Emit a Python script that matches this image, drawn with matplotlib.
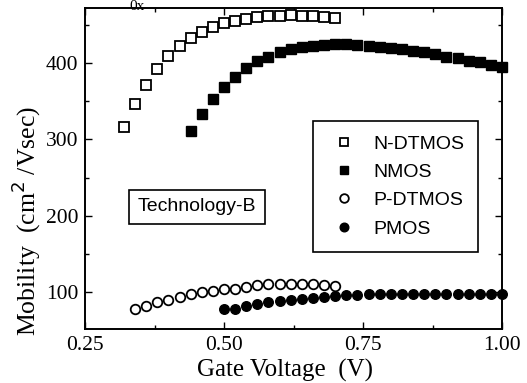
import numpy as np
import matplotlib
matplotlib.use("Agg")
import matplotlib.pyplot as plt
from matplotlib.ticker import MultipleLocator

# Data
ndtmos_v = [0.32, 0.34, 0.36, 0.38, 0.40, 0.42, 0.44, 0.46, 0.48, 0.50,
            0.52, 0.54, 0.56, 0.58, 0.60, 0.62, 0.64, 0.66, 0.68, 0.70]
ndtmos_mu = [316.6, 345.9, 370.8, 391.8, 409.2, 422.3, 432.3, 440.2, 447.5, 452.0,
             455.4, 457.6, 460.2, 461.5, 461.9, 462.8, 461.9, 461.5, 460.6, 458.5]

nmos_v = [0.44, 0.46, 0.48, 0.50, 0.52, 0.54, 0.56, 0.58, 0.60, 0.62,
          0.64, 0.66, 0.68, 0.70, 0.72, 0.74, 0.76, 0.78, 0.80, 0.82,
          0.84, 0.86, 0.88, 0.90, 0.92, 0.94, 0.96, 0.98, 1.00]
nmos_mu = [311.4, 332.9, 352.5, 368.2, 382.1, 393.1, 402.0, 408.2, 414.8, 418.0,
           420.5, 422.6, 423.6, 424.5, 424.5, 423.6, 422.6, 421.3, 420.0, 418.0,
           415.7, 414.0, 411.4, 408.2, 406.2, 403.0, 401.0, 397.4, 394.4]

pdtmos_v = [0.34, 0.36, 0.38, 0.40, 0.42, 0.44, 0.46, 0.48, 0.50, 0.52,
            0.54, 0.56, 0.58, 0.60, 0.62, 0.64, 0.66, 0.68, 0.70]
pdtmos_mu = [78.1, 82.5, 87.7, 89.9, 94.2, 97.4, 100.0, 101.7, 103.9, 104.3,
             107.3, 109.6, 110.5, 110.9, 110.9, 110.9, 110.5, 109.6, 108.6]

pmos_v = [0.50, 0.52, 0.54, 0.56, 0.58, 0.60, 0.62, 0.64, 0.66, 0.68,
          0.70, 0.72, 0.74, 0.76, 0.78, 0.80, 0.82, 0.84, 0.86, 0.88,
          0.90, 0.92, 0.94, 0.96, 0.98, 1.00]
pmos_mu = [77.7, 78.1, 82.5, 84.3, 87.0, 88.6, 90.0, 91.2, 92.2, 93.5,
           95.0, 96.3, 96.3, 97.3, 97.3, 97.7, 97.7, 97.7, 97.7, 97.7,
           97.7, 97.7, 97.7, 97.7, 97.7, 97.7]

x_ticks = [0.25, 0.50, 0.75, 1.00]
x_tick_labels = ["0.25", "0.50", "0.75", "1.00"]
y_ticks = [100, 200, 300, 400]

serif = ["Liberation Serif", "DejaVu Serif"]
sans = ["Liberation Sans", "DejaVu Sans"]

W, H = 527, 383
fig = plt.figure(figsize=(5.27, 3.83), dpi=100)
ax = fig.add_axes([85/W, 1-329/H, (502-85)/W, (329-8)/H])

ms = 6.5
ax.plot(ndtmos_v, ndtmos_mu, ls='none', marker='s', ms=ms, mfc='white', mec='black', mew=1.3,
        label='N-DTMOS', clip_on=False)
ax.plot(nmos_v, nmos_mu, ls='none', marker='s', ms=ms, mfc='black', mec='black', mew=1.0,
        label='NMOS', clip_on=False)
ax.plot(pdtmos_v, pdtmos_mu, ls='none', marker='o', ms=ms+0.4, mfc='white', mec='black', mew=1.3,
        label='P-DTMOS', clip_on=False)
ax.plot(pmos_v, pmos_mu, ls='none', marker='o', ms=ms+0.4, mfc='black', mec='black', mew=1.0,
        label='PMOS', clip_on=False)

ax.set_xlim(0.25, 1.00)
ax.set_ylim(52, 472)
ax.set_xticks(x_ticks)
ax.set_xticklabels(x_tick_labels)
ax.set_yticks(y_ticks)
ax.xaxis.set_minor_locator(MultipleLocator(0.125))
ax.yaxis.set_minor_locator(MultipleLocator(50))
ax.tick_params(which='both', direction='in', top=True, right=True)
ax.tick_params(which='major', length=5, width=1.0, labelsize=15.5, pad=5)
ax.tick_params(which='minor', length=3, width=1.0)
for lab in ax.get_xticklabels() + ax.get_yticklabels():
    lab.set_family(serif)
for sp in ax.spines.values():
    sp.set_linewidth(1.4)

fig.text(285/W, 1-370/H, "Gate Voltage  (V)", fontsize=18, family=serif,
         ha='center', va='center')
fig.text(26/W, 1-221/H, "Mobility  (cm$^2$ /Vsec)", fontsize=18.5, family=serif,
         ha='center', va='center', rotation=90)

leg = ax.legend(loc='upper left', bbox_to_anchor=((313-85)/417, 1-(121-8)/321),
                borderaxespad=0, frameon=True, fancybox=False, edgecolor='black',
                framealpha=1, prop={'family': sans, 'size': 14}, handlelength=1.7,
                handletextpad=0.69, labelspacing=0.55, borderpad=0.72, markerscale=0.9)
leg.get_frame().set_linewidth(1.2)

ax.text((197-85)/417, 1-(207-8)/321, "Technology-B", transform=ax.transAxes,
        fontsize=14, family=sans, ha='center', va='center',
        bbox=dict(boxstyle='square,pad=0.45', fc='white', ec='black', lw=1.2))

fig.text(137/W, 1-0.3/H, "0x", fontsize=11, family=serif, ha='center', va='top')

fig.savefig("out.png", dpi=100)
